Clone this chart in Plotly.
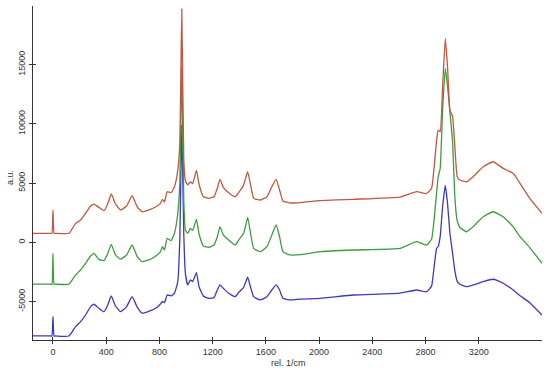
import plotly.graph_objects as go

# Raman shift (rel. 1/cm)
wavenumber = [-150, -20, -8, 0, 8, 20, 120, 170, 208, 245, 283, 308, 345, 383, 412, 438, 470, 508, 553, 595,
              633, 670, 733, 783, 808, 823, 838, 858, 888, 913, 938, 953, 968, 983, 995, 1013, 1033, 1050, 1078, 1098,
              1130, 1170, 1210, 1235, 1255, 1280, 1320, 1370, 1395, 1433, 1463, 1485, 1508, 1558, 1608, 1645, 1677,
              1703, 1728, 1783, 1858, 2008, 2258, 2608, 2733, 2808, 2845, 2865, 2883, 2895, 2910, 2928, 2948, 2965,
              2983, 3003, 3020, 3038, 3058, 3108, 3158, 3233, 3308, 3383, 3458, 3508, 3583, 3675]

red_values = [760, 760, 760, 2725, 760, 760, 760, 1600, 1880, 2450, 3060, 3230, 2950, 2670, 3260, 4080, 3230, 2725, 3060, 3930,
              3000, 2580, 2780, 3060, 3290, 3630, 3400, 4270, 4190, 4690, 6100, 8300, 19700, 7000, 5200, 4850, 5090, 4950, 6070, 4900,
              3850, 3710, 3850, 4560, 5320, 4640, 4190, 3850, 4190, 4840, 5960, 4840, 3710, 3570, 3850, 4690, 5320,
              4420, 3490, 3320, 3350, 3510, 3630, 3820, 4270, 4120, 4560, 6380, 8630, 9480, 9350, 13130, 17210, 14820,
              11160, 10600, 8070, 5540, 5260, 5110, 5540, 6380, 6800, 6240, 5820, 5000, 3710, 2450]

green_values = [-3540, -3540, -3540, -930, -3540, -3540, -3540, -2760, -2340, -1770, -1160, -930, -1440, -1550, -930, -170, -1070, -1430, -1070, -230,
                -1210, -1640, -1430, -1070, -790, -370, -650, 340, 140, 760, 2450, 5000, 14800, 3500, 1040, 760, 1180, 1000, 1940, 700,
                -310, -420, -230, 470, 1320, 620, 190, -230, 190, 760, 2110, 760, -510, -790, -370, 620, 1460,
                470, -790, -1070, -1050, -790, -650, -510, 50, -230, 250, 2000, 4200, 5540, 6240, 11160, 14680, 13200,
                11000, 8500, 3800, 1800, 1250, 890, 1320, 2160, 2580, 2160, 1320, 500, -450, -1770]

blue_values = [-7910, -7910, -7910, -6280, -7910, -7910, -7910, -7120, -6700, -6140, -5430, -5230, -5570, -5860, -5290, -4530, -5380, -5860, -5430, -4590,
               -5480, -5990, -5770, -5480, -5210, -5000, -5100, -4450, -4530, -4300, -3320, 190, 9900, 760, -2620, -3600, -3180, -3320, -2560, -3750,
               -4530, -4740, -4670, -4030, -3600, -3890, -4300, -4590, -4240, -3800, -2950, -3800, -4590, -4870, -4590, -4030, -3600,
               -4030, -4730, -4870, -4800, -4730, -4450, -4300, -4030, -4170, -3700, -2000, -510, -350, 500, 3000, 4800, 3300,
               760, -930, -2400, -3300, -3550, -3750, -3600, -3320, -3120, -3460, -4030, -4500, -5100, -6140]

x_tick_vals = [0, 400, 800, 1200, 1600, 2000, 2400, 2800, 3200]
x_tick_text = ["0", "400", "800", "1200", "1600", "2000", "2400", "2800", "3200"]
y_tick_vals = [-5000, 0, 5000, 10000, 15000]
y_tick_text = ["-5000", "0", "5000", "10000", "15000"]

FONT = "Arial, Liberation Sans, sans-serif"
TXT = "#333333"
AX = "#333333"

fig = go.Figure()
for vals, col in [(blue_values, "#3838c4"), (green_values, "#3e9c3e"), (red_values, "#c4553f")]:
    fig.add_trace(go.Scatter(x=wavenumber, y=vals, mode="lines",
                             line=dict(color=col, width=1.3, shape="spline", smoothing=0.4),
                             showlegend=False, hoverinfo="skip"))

# invisible trace for overlay axes (inside half of crossing ticks)
fig.add_trace(go.Scatter(x=[0], y=[0], xaxis="x2", yaxis="y2", mode="markers",
                         marker=dict(opacity=0), showlegend=False, hoverinfo="skip"))

XR = [-150, 3675]
YR = [-8250, 19950]

fig.update_layout(
    width=550, height=373,
    margin=dict(l=33, r=8, t=6, b=33, autoexpand=False),
    paper_bgcolor="white", plot_bgcolor="white",
    font=dict(family=FONT, size=9, color=TXT),
    xaxis=dict(range=XR, showgrid=False, zeroline=False, showline=True, linecolor=AX, linewidth=1,
               ticks="outside", ticklen=3, tickcolor=AX, tickwidth=1, automargin=False,
               tickvals=x_tick_vals, ticktext=x_tick_text, tickfont=dict(size=9, color=TXT)),
    yaxis=dict(range=YR, showgrid=False, zeroline=False, showline=True, linecolor=AX, linewidth=1,
               ticks="outside", ticklen=3, tickcolor=AX, tickwidth=1, tickangle=-90, automargin=False,
               tickvals=y_tick_vals, ticktext=y_tick_text, tickfont=dict(size=9, color=TXT)),
    xaxis2=dict(range=XR, overlaying="x", anchor="y", side="bottom", showgrid=False, zeroline=False,
                showline=False, ticks="inside", ticklen=3, tickcolor=AX, tickwidth=1, automargin=False,
                tickvals=x_tick_vals, showticklabels=False),
    yaxis2=dict(range=YR, overlaying="y", anchor="x", side="left", showgrid=False, zeroline=False,
                showline=False, ticks="inside", ticklen=3, tickcolor=AX, tickwidth=1, automargin=False,
                tickvals=y_tick_vals, showticklabels=False),
    annotations=[
        dict(text="a.u.", xref="paper", yref="paper", x=(10 - 33) / 509, y=(340 - 178) / 334,
             showarrow=False, textangle=-90, font=dict(size=9, color=TXT), xanchor="center", yanchor="middle"),
        dict(text="rel. 1/cm", xref="paper", yref="paper", x=(288 - 33) / 509, y=-(363 - 340) / 334,
             showarrow=False, font=dict(size=9, color=TXT), xanchor="center", yanchor="middle"),
    ],
)

fig.write_html("out.html", config={"displayModeBar": False},
               post_script="document.body.style.margin='0';document.body.style.overflow='hidden';")
